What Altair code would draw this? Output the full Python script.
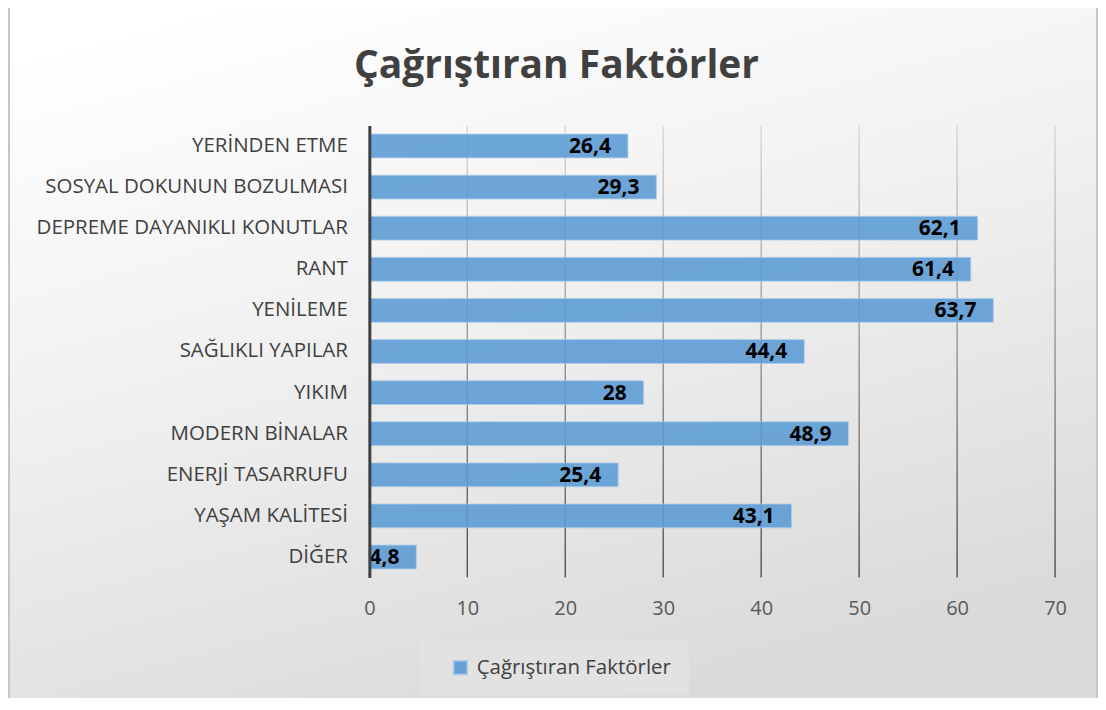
import altair as alt
import pandas as pd

categories = [
    "YERİNDEN ETME",
    "SOSYAL DOKUNUN BOZULMASI",
    "DEPREME DAYANIKLI KONUTLAR",
    "RANT",
    "YENİLEME",
    "SAĞLIKLI YAPILAR",
    "YIKIM",
    "MODERN BİNALAR",
    "ENERJİ TASARRUFU",
    "YAŞAM KALİTESİ",
    "DİĞER",
]
values = [26.4, 29.3, 62.1, 61.4, 63.7, 44.4, 28, 48.9, 25.4, 43.1, 4.8]
series_name = "Çağrıştıran Faktörler"
grid_values = [10, 20, 30, 40, 50, 60, 70]

df = pd.DataFrame({"cat": categories, "value": values, "series": series_name})
grid_df = pd.DataFrame({"g": grid_values})
bg_df = pd.DataFrame({"a": [0]})

W, H = 687, 453
PAD = {"left": 362, "top": 117, "right": 43, "bottom": 120}
FONT = "Open Sans"

bg = alt.Chart(bg_df).mark_rect(
    color=alt.LinearGradient(
        gradient="linear",
        stops=[
            alt.GradientStop(offset=0, color="#ffffff"),
            alt.GradientStop(offset=0.45, color="#f0f0f0"),
            alt.GradientStop(offset=1, color="#d9d9d9"),
        ],
        x1=0.2, y1=0, x2=0.6, y2=1,
    ),
    stroke="#c6c6c6",
    strokeWidth=2,
).encode(
    x=alt.value(-PAD["left"] + 1),
    x2=alt.value(W + PAD["right"] - 1),
    y=alt.value(-PAD["top"] - 4),
    y2=alt.value(H + PAD["bottom"] + 20),
)

grid = alt.Chart(grid_df).mark_tick(
    size=H,
    thickness=1.4,
    color=alt.LinearGradient(
        gradient="linear",
        stops=[
            alt.GradientStop(offset=0, color="#cccccc"),
            alt.GradientStop(offset=1, color="#111111"),
        ],
        x1=0, y1=0, x2=0, y2=1,
    ),
).encode(x=alt.X("g:Q"))

ysort = categories

bars = alt.Chart(df).mark_bar(opacity=0.88, stroke="#a9cbeb", strokeWidth=0.8).encode(
    x=alt.X(
        "value:Q",
        scale=alt.Scale(domain=[0, 70], nice=False),
        axis=alt.Axis(
            values=[0, 10, 20, 30, 40, 50, 60, 70],
            title=None,
            grid=False,
            domain=False,
            ticks=False,
            labelFlush=False,
            labelFont=FONT,
            labelFontSize=20,
            labelColor="#595959",
            labelPadding=21,
            zindex=2,
        ),
    ),
    y=alt.Y(
        "cat:N",
        sort=ysort,
        scale=alt.Scale(paddingInner=0.42, paddingOuter=0.21),
        axis=alt.Axis(
            title=None,
            ticks=False,
            domainColor="#404040",
            domainWidth=3,
            labelFont=FONT,
            labelFontSize=20.5,
            labelColor="#404040",
            labelPadding=22,
            labelLimit=400,
            zindex=2,
        ),
    ),
    color=alt.Color(
        "series:N",
        scale=alt.Scale(range=["#5B9BD5"]),
        legend=alt.Legend(
            title=None,
            orient="none",
            legendX=52,
            legendY=516,
            symbolType="square",
            symbolSize=190,
            symbolOpacity=0.9,
            symbolOffset=12,
            labelFont=FONT,
            labelFontSize=20.5,
            labelColor="#404040",
            labelLimit=400,
            padding=17,
            fillColor="#e2e2e2",
            labelOffset=6,
        ),
    ),
)

labels = alt.Chart(df).transform_calculate(
    lab="replace(toString(datum.value), '.', ',')"
).mark_text(
    align="right", baseline="middle", dx=-17, dy=1,
    font=FONT, fontSize=21, fontWeight="bold", color="#000000",
).encode(
    x=alt.X("value:Q"),
    y=alt.Y("cat:N", sort=ysort),
    text="lab:N",
)

chart = alt.layer(bg, grid, bars, labels).properties(
    width=W,
    height=H,
    autosize=alt.AutoSizeParams(type="none"),
    padding=PAD,
    title=alt.TitleParams(
        series_name,
        font=FONT,
        fontSize=39,
        fontWeight="bold",
        color="#404040",
        anchor="middle",
        frame="group",
        dx=-156,
        offset=0,
        dy=82,
        zindex=2,
    ),
).configure_view(stroke=None).configure(background="#eeeeee")

chart.save("out.html", embed_options={"renderer": "svg", "actions": False})
